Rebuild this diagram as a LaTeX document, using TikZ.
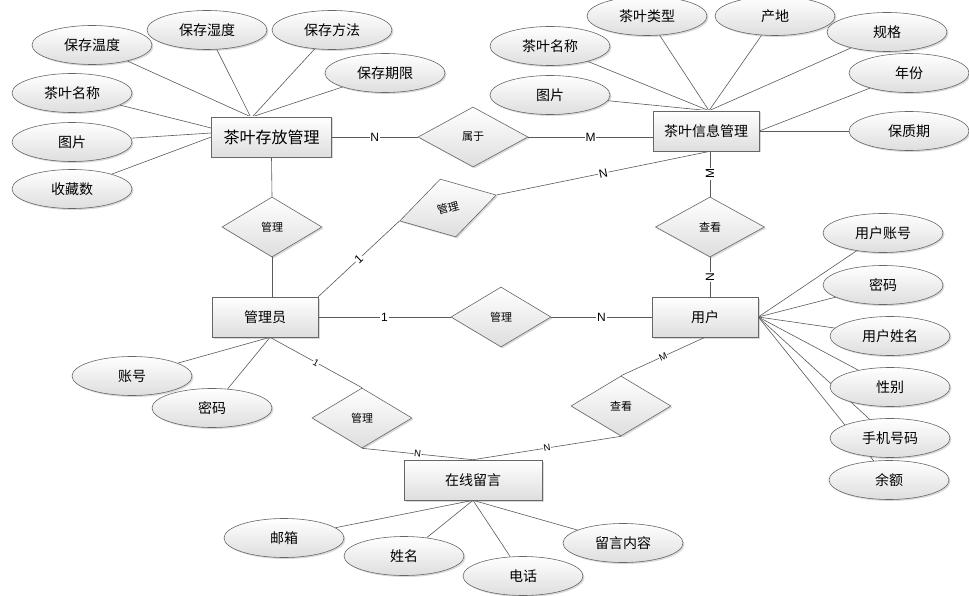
\documentclass[tikz,border=0pt]{standalone}
\usepackage{fontspec}
\setmainfont{Liberation Sans}
\newfontfamily\cjk{Noto Sans CJK SC}
\usetikzlibrary{shapes.geometric,shadows,calc,backgrounds}
\begin{document}
\begin{tikzpicture}[x=1pt,y=-1pt,
  base/.style={draw=black!60, line width=0.6pt, top color=white, bottom color=black!13,
    drop shadow={shadow xshift=1.5pt,shadow yshift=-1.5pt,opacity=0.25,fill=black!60}},
  ent/.style={base, rectangle, minimum width=106, minimum height=40, inner sep=0,
    font=\cjk\fontsize{14}{14}\selectfont},
  attr/.style={base, ellipse, minimum width=120, minimum height=39, inner sep=0,
    font=\cjk\fontsize{14}{14}\selectfont},
  rel/.style={base, diamond, minimum width=100, minimum height=60, inner sep=0,
    font=\cjk\fontsize{11}{11}\selectfont},
  ln/.style={draw=black!65, line width=0.6pt},
  card/.style={fill=white, inner sep=0.8pt, font=\fontsize{12}{12}\selectfont},
  cards/.style={fill=white, inner sep=0.5pt, font=\fontsize{9.5}{9.5}\selectfont},
]
\useasboundingbox (0,0) rectangle (969,596);

% entities
\node[ent, minimum width=120, font=\cjk\fontsize{16}{16}\selectfont] (store) at (271.5,137) {茶叶存放管理};
\node[ent] (info) at (706,131) {茶叶信息管理};
\node[ent] (admin) at (265,317) {管理员};
\node[ent] (user) at (705,317) {用户};
\node[ent, minimum width=138] (msg) at (473,480) {在线留言};

% relationships
\node[rel, minimum width=110] (belong) at (473,137) {属于};
\node[rel] (m1) at (272,227) {管理};
\node[rel, minimum width=109] (look1) at (710,227) {查看};
\node[rel] (m2) at (501,317) {管理};
\node[rel, rotate=15] (m3) at (448,208) {管理};
\node[rel] (m4) at (362,418) {管理};
\node[rel] (look2) at (621,406) {查看};

% attributes of 茶叶存放管理
\node[attr] (a1) at (92,45) {保存温度};
\node[attr] (a2) at (207,30) {保存湿度};
\node[attr] (a3) at (332,30) {保存方法};
\node[attr] (a4) at (385,73) {保存期限};
\node[attr] (a5) at (72,93) {茶叶名称};
\node[attr] (a6) at (72,142) {图片};
\node[attr] (a7) at (72,189) {收藏数};

% attributes of 茶叶信息管理
\node[attr] (b1) at (550,46) {茶叶名称};
\node[attr] (b2) at (647,16) {茶叶类型};
\node[attr] (b3) at (775,16) {产地};
\node[attr] (b4) at (887,32) {规格};
\node[attr] (b5) at (550,95) {图片};
\node[attr] (b6) at (909,73) {年份};
\node[attr] (b7) at (909,131) {保质期};

% attributes of 用户
\node[attr] (c1) at (883,233) {用户账号};
\node[attr] (c2) at (883,285) {密码};
\node[attr] (c3) at (890,336) {用户姓名};
\node[attr] (c4) at (890,387) {性别};
\node[attr] (c5) at (890,438) {手机号码};
\node[attr] (c6) at (889,480) {余额};

% attributes of 管理员
\node[attr] (d1) at (132,376) {账号};
\node[attr] (d2) at (212,408) {密码};

% attributes of 在线留言
\node[attr] (e1) at (284,538) {邮箱};
\node[attr] (e2) at (404,556) {姓名};
\node[attr] (e3) at (523,576) {电话};
\node[attr] (e4) at (623,543) {留言内容};

% junction points
\coordinate (sj) at ($(store.north)+(-21,0)$);
\coordinate (sl1) at ($(store.west)+(0,-9)$);
\coordinate (sl2) at ($(store.west)+(0,-4)$);
\coordinate (ij) at ($(info.north)+(3,0)$);
\coordinate (ib) at ($(info.south)+(4,0)$);
\coordinate (ab) at ($(admin.south)+(5,0)$);

\begin{scope}[on background layer]
\draw[ln] (sj) -- (a1);
\draw[ln] (sj) -- (a2);
\draw[ln] ($(sj)+(2,0)$) -- (a3);
\draw[ln] ($(sj)+(2,0)$) -- (a4);
\draw[ln] (sl1) -- (a5);
\draw[ln] (sl2) -- (a6);
\draw[ln] (store.west) -- (a7);

\draw[ln] (ij) -- (b1);
\draw[ln] (ij) -- (b2);
\draw[ln] (ij) -- (b3);
\draw[ln] (ij) -- (b4);
\draw[ln] (ij) -- (b5);
\draw[ln] (info.east) -- (b6);
\draw[ln] (info.east) -- (b7);

\foreach \c in {c1,c2,c3,c4,c5,c6} \draw[ln] (user.east) -- (\c);
\draw[ln] (ab) -- (d1);
\draw[ln] (ab) -- (d2);
\foreach \e in {e1,e2,e3,e4} \draw[ln] (msg.south) -- (\e);

% relationship connectors
\draw[ln] (store.east) -- node[card] {N} (belong.west);
\draw[ln] (belong.east) -- node[card] {M} (belong.east -| info.west);
\draw[ln] (store.south) -- (m1.north);
\draw[ln] (m1.south) -- (m1.south |- admin.north);
\draw[ln] (admin.north east) -- node[card, sloped] {1} (m3.west);
\draw[ln] (m3.east) -- node[card, sloped] {N} (ib);
\draw[ln] (ib) -- node[card, rotate=90] {M} (look1.north);
\draw[ln] (look1.south) -- node[card, rotate=90] {N} (look1.south |- user.north);
\draw[ln] (admin.east) -- node[card] {1} (m2.west);
\draw[ln] (m2.east) -- node[card] {N} (user.west);
\draw[ln] (ab) -- node[cards, sloped] {1} (m4.north);
\draw[ln] (m4.south) -- node[cards, sloped] {N} (msg.north);
\draw[ln] (user.south) -- node[cards, sloped] {M} (look2.north);
\draw[ln] (look2.south) -- node[cards, sloped] {N} (msg.north);
\end{scope}
\end{tikzpicture}
\end{document}
